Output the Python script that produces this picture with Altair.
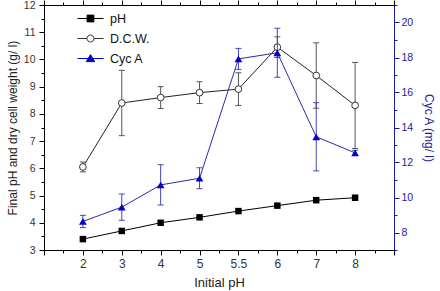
import json
import altair as alt
import pandas as pd

# ---- data ----
categories = ["2", "3", "4", "5", "5.5", "6", "7", "8"]
ph_final = [3.4, 3.7, 4.0, 4.2, 4.43, 4.63, 4.83, 4.92]
dcw = [6.05, 8.4, 8.6, 8.78, 8.91, 10.45, 9.41, 8.31]
dcw_err = [0.18, 1.2, 0.4, 0.4, 0.6, 0.38, 1.2, 1.58]
cyc = [8.63, 9.45, 10.72, 11.1, 17.92, 18.27, 13.47, 12.55]
cyc_err = [0.35, 0.75, 1.15, 0.6, 0.6, 1.4, 1.95, 0.15]
series = ["pH", "D.C.W.", "Cyc A"]

df = pd.DataFrame({
    "idx": list(range(len(categories))),
    "cat": categories,
    "ph": ph_final,
    "dcw": dcw,
    "dcw_lo": [v - e for v, e in zip(dcw, dcw_err)],
    "dcw_hi": [v + e for v, e in zip(dcw, dcw_err)],
    "cyc": cyc,
    "cyc_lo": [v - e for v, e in zip(cyc, cyc_err)],
    "cyc_hi": [v + e for v, e in zip(cyc, cyc_err)],
})
legend_df = pd.DataFrame({"series": series})

FONT = "Liberation Sans"
BLUE = "#0000CC"
AXBLUE = "#1a1a9c"
GREY = "#555555"

n = len(categories)
xvals = [i / 2 for i in range(-2, 2 * n + 1)]
cat_js = json.dumps(categories)
x_label_expr = (
    f"(datum.value % 1 === 0 && datum.value >= 0 && datum.value < {n}) "
    f"? {cat_js}[datum.value] : ''"
)
minor_x = {"condition": {"test": "datum.value % 1 !== 0", "value": 3}, "value": 5}

x_scale = alt.Scale(domain=[-1, n], nice=False, zero=False)
x_bottom = alt.X(
    "idx:Q", scale=x_scale,
    axis=alt.Axis(
        orient="bottom", values=xvals, labelExpr=x_label_expr, tickSize=minor_x,
        grid=False, domainColor="black", tickColor="black", labelColor="#333333",
        labelFont=FONT, labelFontSize=12, labelPadding=3, labelFlush=False,
        labelOverlap=False,
        title="Initial pH", titleFont=FONT, titleFontSize=13, titleFontWeight="normal",
        titleColor="#222222", titlePadding=7,
    ),
)
x_top = alt.X(
    "idx:Q", scale=x_scale,
    axis=alt.Axis(
        orient="top", values=xvals, labels=False, tickSize=minor_x, grid=False,
        domainColor="black", tickColor="black", title=None,
    ),
)

left_scale = alt.Scale(domain=[3, 12], nice=False, zero=False)
left_axis = alt.Axis(
    orient="left", values=[3 + i / 2 for i in range(19)],
    labelExpr="datum.value % 1 === 0 ? datum.value : ''",
    tickSize={"condition": {"test": "datum.value % 1 !== 0", "value": 3}, "value": 5},
    grid=False, domainColor="black", tickColor="black", labelColor="#333333",
    labelFont=FONT, labelFontSize=10.5, labelPadding=4, labelFlush=False,
    title="Final pH and dry cell weight (g/ l)", titleFont=FONT, titleFontSize=12,
    titleFontWeight="normal", titleColor="#222222", titlePadding=4,
)
right_scale = alt.Scale(domain=[7, 21], nice=False, zero=False)
right_axis = alt.Axis(
    orient="right", values=list(range(7, 22)),
    labelExpr="datum.value % 2 === 0 ? datum.value : ''",
    tickSize={"condition": {"test": "datum.value % 2 !== 0", "value": 3}, "value": 5},
    grid=False, domainColor=AXBLUE, tickColor=AXBLUE, labelColor=AXBLUE,
    labelFont=FONT, labelFontSize=10.5, labelPadding=2, labelFlush=False,
    title="Cyc A (mg/ l)", titleFont=FONT, titleFontSize=12, titleFontWeight="normal",
    titleColor=AXBLUE, titlePadding=9,
)


def yl(field):
    return alt.Y(f"{field}:Q", scale=left_scale, axis=left_axis)


def yr(field):
    return alt.Y(f"{field}:Q", scale=right_scale, axis=right_axis)


base = alt.Chart(df)

# D.C.W. (left axis)
dcw_rule = base.mark_rule(color=GREY, strokeWidth=1).encode(
    x=x_bottom, y=yl("dcw_lo"), y2="dcw_hi:Q")
dcw_cap_lo = base.mark_point(shape="M-1,0H1", size=36, stroke=GREY, strokeWidth=1,
                             opacity=1).encode(x=x_bottom, y=yl("dcw_lo"))
dcw_cap_hi = base.mark_point(shape="M-1,0H1", size=36, stroke=GREY, strokeWidth=1,
                             opacity=1).encode(x=x_bottom, y=yl("dcw_hi"))
dcw_line = base.mark_line(color="#222222", strokeWidth=1).encode(x=x_bottom, y=yl("dcw"))
dcw_pts = base.mark_point(shape="circle", filled=True, fill="white", stroke="#333333",
                          strokeWidth=1, size=45, opacity=1).encode(x=x_bottom, y=yl("dcw"))

# final pH (left axis)
ph_line = base.mark_line(color="black", strokeWidth=1).encode(x=x_bottom, y=yl("ph"))
ph_pts = base.mark_point(shape="square", filled=True, color="black", size=42,
                         opacity=1).encode(x=x_bottom, y=yl("ph"))

# legend (symbols built from line + marker paths)
paths = [
    "M-1,0H-0.26M0.26,0H1M-0.26,-0.26H0.26V0.26H-0.26Z",
    "M-1,0H-0.27M0.27,0H1M0.27,0A0.27,0.27 0 1,1 -0.27,0A0.27,0.27 0 1,1 0.27,0Z",
    "M-1,0H1M0,-0.3L0.32,0.24H-0.32Z",
]
leg = alt.Legend(
    orient="none", legendX=33, legendY=0, title=None, symbolSize=676,
    symbolStrokeWidth=1, symbolOpacity=1, labelFont=FONT, labelFontSize=12.5,
    labelColor="#111111", labelOffset=6, rowPadding=-6, padding=0,
)
legend_layer = alt.Chart(legend_df).mark_point(opacity=0, filled=True).encode(
    x=alt.value(0), y=alt.value(0),
    stroke=alt.Stroke("series:N", scale=alt.Scale(domain=series, range=["black", "#333333", BLUE]), legend=leg),
    fill=alt.Fill("series:N", scale=alt.Scale(domain=series, range=["black", "white", BLUE]), legend=leg),
    shape=alt.Shape("series:N", scale=alt.Scale(domain=series, range=paths), legend=leg),
)

left_group = alt.layer(dcw_rule, dcw_cap_lo, dcw_cap_hi, dcw_line, dcw_pts,
                       ph_line, ph_pts, legend_layer)

# Cyc A (right axis)
cyc_rule = base.mark_rule(color="#4444bb", strokeWidth=1).encode(
    x=x_top, y=yr("cyc_lo"), y2="cyc_hi:Q")
cyc_cap_lo = base.mark_point(shape="M-1,0H1", size=36, stroke="#4444bb", strokeWidth=1,
                             opacity=1).encode(x=x_top, y=yr("cyc_lo"))
cyc_cap_hi = base.mark_point(shape="M-1,0H1", size=36, stroke="#4444bb", strokeWidth=1,
                             opacity=1).encode(x=x_top, y=yr("cyc_hi"))
cyc_line = base.mark_line(color="#2a2ab0", strokeWidth=1).encode(x=x_top, y=yr("cyc"))
cyc_pts = base.mark_point(shape="triangle-up", filled=True, color=BLUE, size=60,
                          opacity=1).encode(x=x_top, y=yr("cyc"))

right_group = alt.layer(cyc_rule, cyc_cap_lo, cyc_cap_hi, cyc_line, cyc_pts)

chart = (
    alt.layer(left_group, right_group)
    .resolve_scale(y="independent", stroke="independent", fill="independent", shape="independent")
    .resolve_axis(x="independent", y="independent")
    .properties(width=350, height=245, background="white",
                padding={"left": 44, "top": 5, "right": 46, "bottom": 41},
                autosize=alt.AutoSizeParams(type="none"))
    .configure_view(stroke="black", strokeWidth=1)
)

chart.save("out.html", embed_options={"renderer": "svg", "actions": False})
